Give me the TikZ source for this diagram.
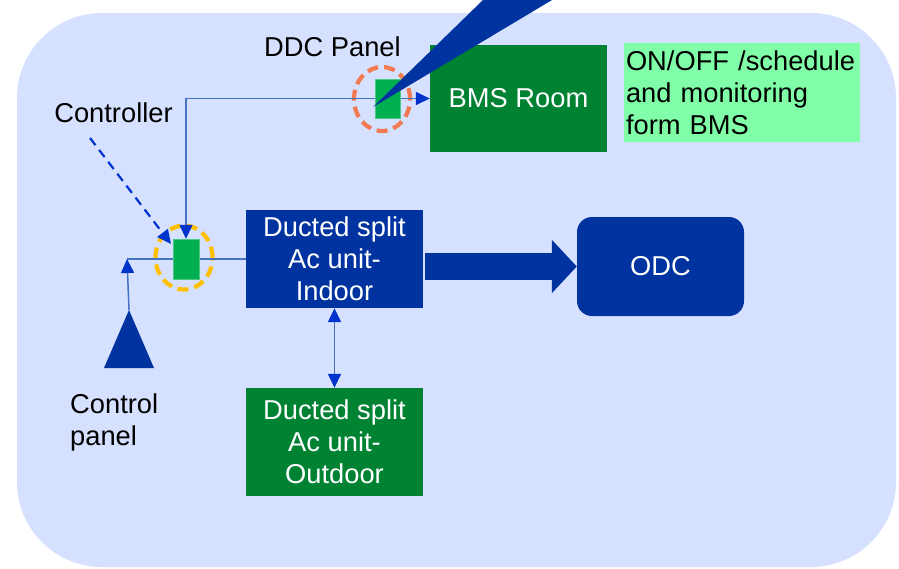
\documentclass[tikz,border=0pt]{standalone}
\usepackage{fontspec}
\setmainfont{Liberation Sans}
\usetikzlibrary{arrows.meta,shapes.geometric}

\definecolor{bgblue}{HTML}{D6E0FF}
\definecolor{dblue}{HTML}{0033A0}
\definecolor{dgreen}{HTML}{008233}
\definecolor{lgreen}{HTML}{00B050}
\definecolor{notegreen}{HTML}{80FFA8}
\definecolor{lineblue}{HTML}{4472C4}
\definecolor{tipblue}{HTML}{0033CC}
\definecolor{ringorange}{HTML}{F27A50}
\definecolor{ringyellow}{HTML}{FFC000}

\begin{document}
\begin{tikzpicture}[x=1pt,y=-1pt,
  txt/.style={font=\fontsize{27.3}{32}\selectfont, inner sep=0pt, align=center},
  unitbox/.style={txt, text=white, minimum width=177pt, minimum height=98pt},
  device/.style={fill=lgreen, draw=lgreen!70!white, line width=0.4pt, inner sep=0pt},
  ring/.style={ellipse, line width=4.2pt, dash pattern=on 11pt off 6pt, inner sep=0pt},
  conn/.style={draw=lineblue, line width=1.5pt},
  >={Triangle[length=14pt,width=13pt,color=tipblue]}]

\useasboundingbox (0,0) rectangle (899,568);
\fill[bgblue, rounded corners=85pt] (17,13) rectangle (896,567);

% equipment blocks
\node[unitbox, fill=dblue] (indoor) at (334.5,259) {Ducted split\\Ac unit-\\Indoor};
\node[unitbox, fill=dgreen, minimum height=108pt] (outdoor) at (334.5,442) {Ducted split\\Ac unit-\\Outdoor};
\node[txt, text=white, fill=dgreen, minimum width=177pt, minimum height=107pt] (bms) at (518.5,98.5) {BMS Room};
\node[txt, text=white, fill=dblue, rounded corners=15pt, minimum width=167pt, minimum height=99pt] (odc) at (660.5,266.5) {ODC};
\node[txt, align=left, fill=notegreen, text width=232pt, inner xsep=2pt, minimum height=99pt] (note) at (742,92.5)
  {ON/OFF /schedule\\and monitoring\\form BMS};

% control devices with highlight rings
\node[device, minimum width=25pt, minimum height=39pt] (ddc) at (387.5,98.5) {};
\node[device, minimum width=26pt, minimum height=40pt] (ctrl) at (186,259) {};
\node[ring, draw=ringorange, minimum width=56pt, minimum height=64pt] (ddcring) at (382,99) {};
\node[ring, draw=ringyellow, minimum width=57pt, minimum height=64pt] (ctrlring) at (184,257.5) {};

% labels
\node[txt] (ddclbl) at (332.5,47) {DDC Panel};
\node[txt] (ctrllbl) at (113.5,113) {Controller};
\node[txt, align=left, anchor=north west] (cplbl) at (70,394) {Control\\panel};

% control panel symbol
\coordinate (cpapex) at (129,310);
\fill[dblue] (104,368) -- (cpapex) -- (154,368) -- cycle;
\coordinate (jn) at (127,259);

% wiring
\draw[conn] (jn) -- (indoor.west);
\draw[conn, ->] (cpapex) -- (jn);
\coordinate (bend) at (ctrl.north |- bms.west);
\draw[conn, <->] (ctrl.north) -- (bend) -- (bms.west);
\draw[conn, <->] (indoor.south) -- (outdoor.north);
\coordinate (ctrltail) at (90,138);
\draw[draw=tipblue, line width=2.2pt, dash pattern=on 9pt off 6pt, ->] (ctrltail) -- (171,244);

% redraw devices above the wiring
\node[device, minimum width=25pt, minimum height=39pt] at (ddc) {};
\node[device, minimum width=26pt, minimum height=40pt] at (ctrl) {};

% heavy flow arrow to the ODC
\draw[dblue, line width=27pt, -{Triangle[length=25pt,width=52pt,color=dblue]}]
  ([xshift=2pt]indoor.east |- odc.west) -- (odc.west);

% callout wedge
\coordinate (wtip) at (373,107);
\fill[dblue] (wtip) -- (483,0) -- (552,0) -- cycle;
\end{tikzpicture}
\end{document}
